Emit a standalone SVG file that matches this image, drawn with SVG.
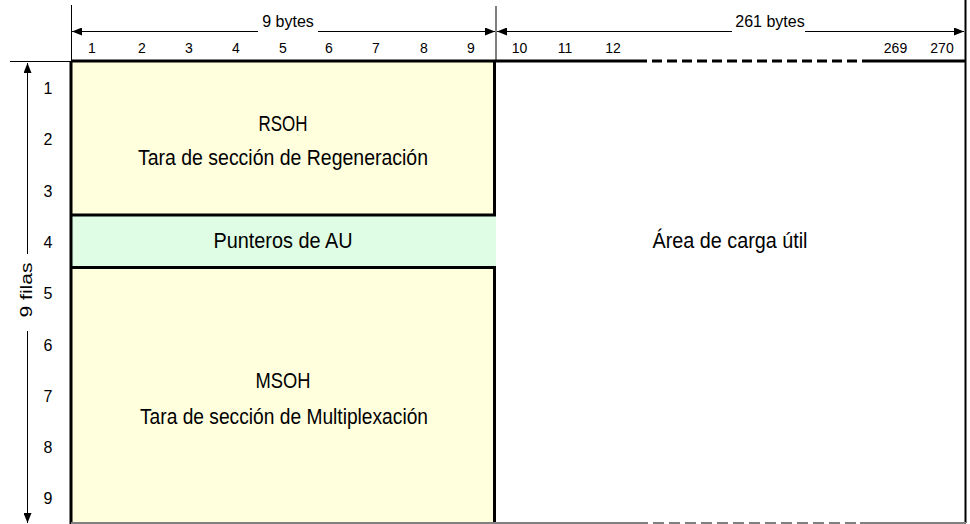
<svg xmlns="http://www.w3.org/2000/svg" width="970" height="524" viewBox="0 0 970 524">
<style>
text{font-family:"Liberation Sans",Arial,sans-serif;fill:#000}
.big{font-size:22px;text-anchor:middle}
.num{font-size:14px;text-anchor:middle}
.row{font-size:16px;text-anchor:middle}
.dim{font-size:16px;text-anchor:middle}
.thin{stroke:#000;stroke-width:1;fill:none}
.thick{stroke:#000;stroke-width:3;fill:none}
</style>
<defs>
<marker id="ah" viewBox="0 0 10 8" refX="10" refY="4" markerWidth="10" markerHeight="8" markerUnits="userSpaceOnUse" orient="auto-start-reverse">
<path d="M0,0 L10,4 L0,8 z" fill="#000"/>
</marker>
</defs>
<rect width="970" height="524" fill="#fff"/>

<g id="rsoh">
<rect x="71" y="61" width="424" height="154" fill="#FFFFDE"/>
<text class="big" x="283" y="131" textLength="49" lengthAdjust="spacingAndGlyphs">RSOH</text>
<text class="big" x="283" y="165" textLength="290" lengthAdjust="spacingAndGlyphs">Tara de sección de Regeneración</text>
</g>
<g id="pointers">
<rect x="71" y="215" width="425" height="52" fill="#DFFDE4"/>
<text class="big" x="283" y="248" textLength="139" lengthAdjust="spacingAndGlyphs">Punteros de AU</text>
</g>
<g id="msoh">
<rect x="71" y="267" width="424" height="256" fill="#FFFFDE"/>
<text class="big" x="283" y="388" textLength="55" lengthAdjust="spacingAndGlyphs">MSOH</text>
<text class="big" x="284" y="424" textLength="288" lengthAdjust="spacingAndGlyphs">Tara de sección de Multiplexación</text>
</g>
<g id="payload">
<rect x="496" y="61" width="469" height="462" fill="#fff"/>
<text class="big" x="730" y="248" textLength="155" lengthAdjust="spacingAndGlyphs">Área de carga útil</text>
</g>

<g id="borders">
<line class="thick" x1="71" y1="61" x2="637" y2="61"/>
<line class="thick" x1="637" y1="61" x2="867" y2="61" stroke-dasharray="10,5"/>
<line class="thick" x1="867" y1="61" x2="966" y2="61"/>
<line class="thick" x1="71" y1="61" x2="71" y2="524"/>
<path class="thick" d="M71,215 H494.5 V61"/>
<path class="thick" d="M71,267.5 H494.5 V524"/>
<line stroke="#000" stroke-width="2" x1="965.5" y1="0" x2="965.5" y2="523"/>
<line stroke="#808080" stroke-width="2" x1="71" y1="523" x2="637" y2="523"/>
<line stroke="#808080" stroke-width="2" x1="637" y1="523" x2="860" y2="523" stroke-dasharray="11,5"/>
<line stroke="#808080" stroke-width="2" x1="860" y1="523" x2="966" y2="523"/>
<line class="thin" x1="10" y1="61.5" x2="71" y2="61.5"/>
<line class="thin" x1="71.5" y1="5" x2="71.5" y2="61"/>
<line class="thin" x1="496" y1="6" x2="496" y2="61"/>
</g>

<g id="connectors">
<line class="thin" x1="72" y1="31.5" x2="258" y2="31.5" marker-start="url(#ah)"/>
<line class="thin" x1="318" y1="31.5" x2="495" y2="31.5" marker-end="url(#ah)"/>
<line class="thin" x1="497" y1="31.5" x2="732" y2="31.5" marker-start="url(#ah)"/>
<line class="thin" x1="805" y1="31.5" x2="964" y2="31.5" marker-end="url(#ah)"/>
<line class="thin" x1="27.5" y1="63" x2="27.5" y2="254" marker-start="url(#ah)"/>
<line class="thin" x1="27.5" y1="331" x2="27.5" y2="523" marker-end="url(#ah)"/>
</g>

<g id="labels">
<text class="dim" x="288" y="27">9 bytes</text>
<text class="dim" x="770" y="27">261 bytes</text>
<text class="dim" transform="translate(32,290) rotate(-90)" textLength="55" lengthAdjust="spacingAndGlyphs">9 filas</text>
<text class="num" x="92" y="53">1</text>
<text class="num" x="142" y="53">2</text>
<text class="num" x="189" y="53">3</text>
<text class="num" x="236" y="53">4</text>
<text class="num" x="283" y="53">5</text>
<text class="num" x="329" y="53">6</text>
<text class="num" x="376" y="53">7</text>
<text class="num" x="424" y="53">8</text>
<text class="num" x="471" y="53">9</text>
<text class="num" x="519.5" y="53">10</text>
<text class="num" x="565" y="53">11</text>
<text class="num" x="613" y="53">12</text>
<text class="num" x="895.5" y="53">269</text>
<text class="num" x="942" y="53">270</text>
<text class="row" x="48" y="94">1</text>
<text class="row" x="48" y="145.3">2</text>
<text class="row" x="48" y="196.6">3</text>
<text class="row" x="48" y="248">4</text>
<text class="row" x="48" y="299.2">5</text>
<text class="row" x="48" y="350.5">6</text>
<text class="row" x="48" y="401.8">7</text>
<text class="row" x="48" y="453.1">8</text>
<text class="row" x="48" y="504.4">9</text>
</g>
</svg>
